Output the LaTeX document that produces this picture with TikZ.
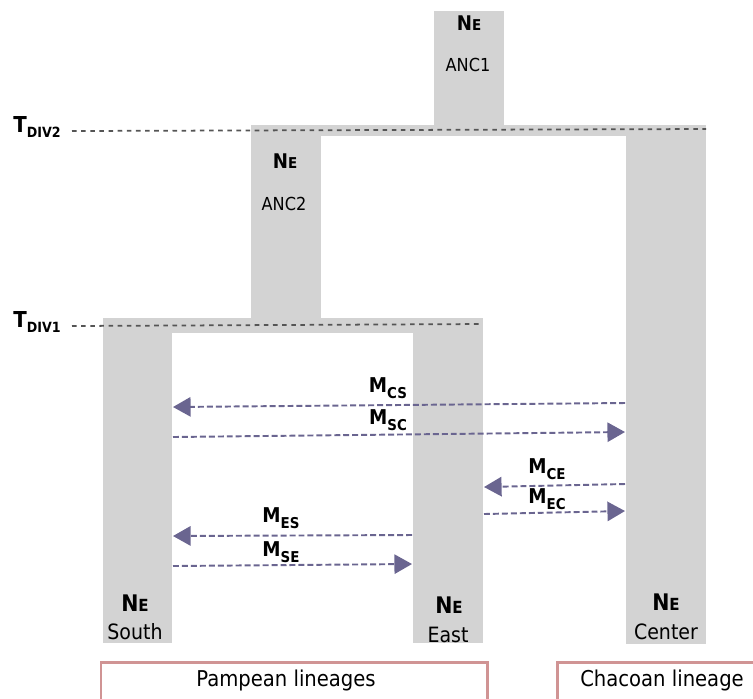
\documentclass[tikz,border=0pt]{standalone}
\usepackage{fontspec}
\setmainfont{DejaVu Sans}[FakeStretch=0.9]
\usetikzlibrary{arrows.meta}

\definecolor{popgray}{HTML}{D3D3D3}
\definecolor{migpurple}{HTML}{6A6590}
\definecolor{boxpink}{HTML}{D09494}
\definecolor{divgray}{HTML}{555555}

% N_E label (small E)
\newcommand{\neLab}[2]{{\bfseries\fontsize{#1}{#1}\selectfont N\fontsize{#2}{#2}\selectfont E}}
% migration label
\newcommand{\migLab}[1]{{\bfseries\fontsize{11.6}{12}\selectfont M\raisebox{-0.3em}{\fontsize{8.5}{9}\selectfont #1}}}
% divergence time label
\newcommand{\divLab}[1]{{\bfseries\fontsize{12.5}{13}\selectfont T\raisebox{-0.25em}{\fontsize{8}{8}\selectfont #1}}}

\begin{document}
\begin{tikzpicture}[x=0.02cm,y=-0.02cm,
    migarrow/.style={draw=migpurple, line width=1.1pt, dash pattern=on 3.4pt off 1.7pt,
        -{Triangle[length=10pt,width=11pt,fill=migpurple]}},
    divline/.style={draw=divgray, line width=1pt, dash pattern=on 2.6pt off 2.6pt},
    popname/.style={font=\fontsize{12}{14}\selectfont, inner sep=0pt, anchor=base},
    ancname/.style={font=\fontsize{10.2}{12}\selectfont, inner sep=0pt, anchor=base},
    nelab/.style={inner sep=0pt, anchor=base},
    miglab/.style={inner sep=0pt},
    boxname/.style={font=\fontsize{12.4}{14}\selectfont, inner sep=0pt},
    lineagebox/.style={draw=boxpink, line width=1.7pt, fill=white}]

\useasboundingbox (0,0) rectangle (753,698);

% ===== Vẽ các quần thể =====
\foreach \xa/\ya/\xb/\yb in {434/11/504/126, 251/125/706/136, 251/136/321/319,
    626/136/706/644, 103/318/483/333, 103/333/172/643, 413/333/483/643} {
    \fill[popgray] (\xa,\ya) rectangle (\xb,\yb);
}

% ===== Thời điểm phân tách =====
\node[inner sep=0pt, anchor=base west] (tdiv2) at (13,132) {\divLab{DIV2}};
\node[inner sep=0pt, anchor=base west] (tdiv1) at (13,327) {\divLab{DIV1}};
\coordinate (div2a) at (72,131);
\coordinate (div2b) at (706,129);
\coordinate (div1a) at (72,326);
\coordinate (div1b) at (483,324);
\draw[divline] (div2a) -- (div2b);
\draw[divline] (div1a) -- (div1b);

% ===== Tên quần thể =====
\node[nelab] (neanc1) at (469,30) {\neLab{11.5}{8.5}};
\node[ancname] (anc1) at (468,71) {ANC1};
\node[nelab] (neanc2) at (285,168) {\neLab{11.5}{8.5}};
\node[ancname] (anc2) at (284,210) {ANC2};
\node[nelab] (nesouth) at (135,611) {\neLab{13}{9.5}};
\node[popname] (south) at (135,639) {South};
\node[nelab] (neeast) at (449,613) {\neLab{13}{9.5}};
\node[popname] (east) at (448,642) {East};
\node[nelab] (necenter) at (666,610) {\neLab{13}{9.5}};
\node[popname] (center) at (666,639) {Center};

% ===== Di cư =====
\coordinate (cs1) at (625,403);
\coordinate (cs2) at (173,407);
\coordinate (sc1) at (173,437);
\coordinate (sc2) at (625,432);
\coordinate (ce1) at (625,484);
\coordinate (ce2) at (484,487);
\coordinate (ec1) at (484,514);
\coordinate (ec2) at (625,511);
\coordinate (es1) at (412,535);
\coordinate (es2) at (173,536);
\coordinate (se1) at (173,566);
\coordinate (se2) at (412,564);
\draw[migarrow] (cs1) -- (cs2);
\draw[migarrow] (sc1) -- (sc2);
\draw[migarrow] (ce1) -- (ce2);
\draw[migarrow] (ec1) -- (ec2);
\draw[migarrow] (es1) -- (es2);
\draw[migarrow] (se1) -- (se2);
\node[miglab] (mcs) at (388,388) {\migLab{CS}};
\node[miglab] (msc) at (388,420) {\migLab{SC}};
\node[miglab] (mce) at (547,469) {\migLab{CE}};
\node[miglab] (mec) at (547,499) {\migLab{EC}};
\node[miglab] (mes) at (281,518) {\migLab{ES}};
\node[miglab] (mse) at (281,552) {\migLab{SE}};

% ===== Dòng dõi =====
\begin{scope}
\clip (0,0) rectangle (753,698);
\draw[lineagebox] (101,662) rectangle (487,712);
\draw[lineagebox] (557,662) rectangle (770,712);
\node[boxname] (pampean) at (286,680) {Pampean lineages};
\node[boxname] (chacoan) at (662,680) {Chacoan lineage};
\end{scope}

\end{tikzpicture}
\end{document}
